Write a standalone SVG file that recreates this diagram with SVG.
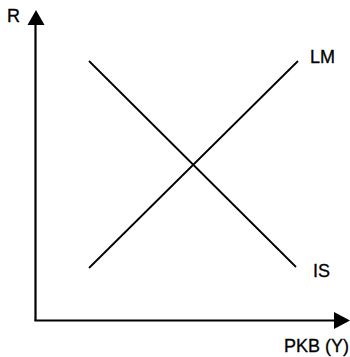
<svg xmlns="http://www.w3.org/2000/svg" width="350" height="357" viewBox="0 0 350 357">
<style>
.axis{stroke:#000;stroke-width:2.2;fill:none}
.curve{stroke:#000;stroke-width:1.8;fill:none}
.lbl{font-family:"Liberation Sans",Arial,sans-serif;font-size:18px;fill:#000;stroke:#000;stroke-width:0.3}
</style>
<rect width="350" height="357" fill="#fff"/>
<g id="axes">
<line class="axis" x1="35.5" y1="321" x2="35.5" y2="22"/>
<polygon points="36,10 27.5,25 44.5,25" fill="#000"/>
<line class="axis" x1="34.5" y1="320.5" x2="336" y2="320.5"/>
<polygon points="350,320.5 334,312 334,329" fill="#000"/>
</g>
<g id="connectors">
<line id="LM-line" class="curve" x1="89" y1="268" x2="298" y2="61"/>
<line id="IS-line" class="curve" x1="89" y1="61" x2="296" y2="267"/>
</g>
<g id="labels">
<text class="lbl" x="7" y="22">R</text>
<text class="lbl" x="310" y="63">LM</text>
<text class="lbl" x="313" y="277">IS</text>
<text class="lbl" x="284" y="352">PKB (Y)</text>
</g>
</svg>
